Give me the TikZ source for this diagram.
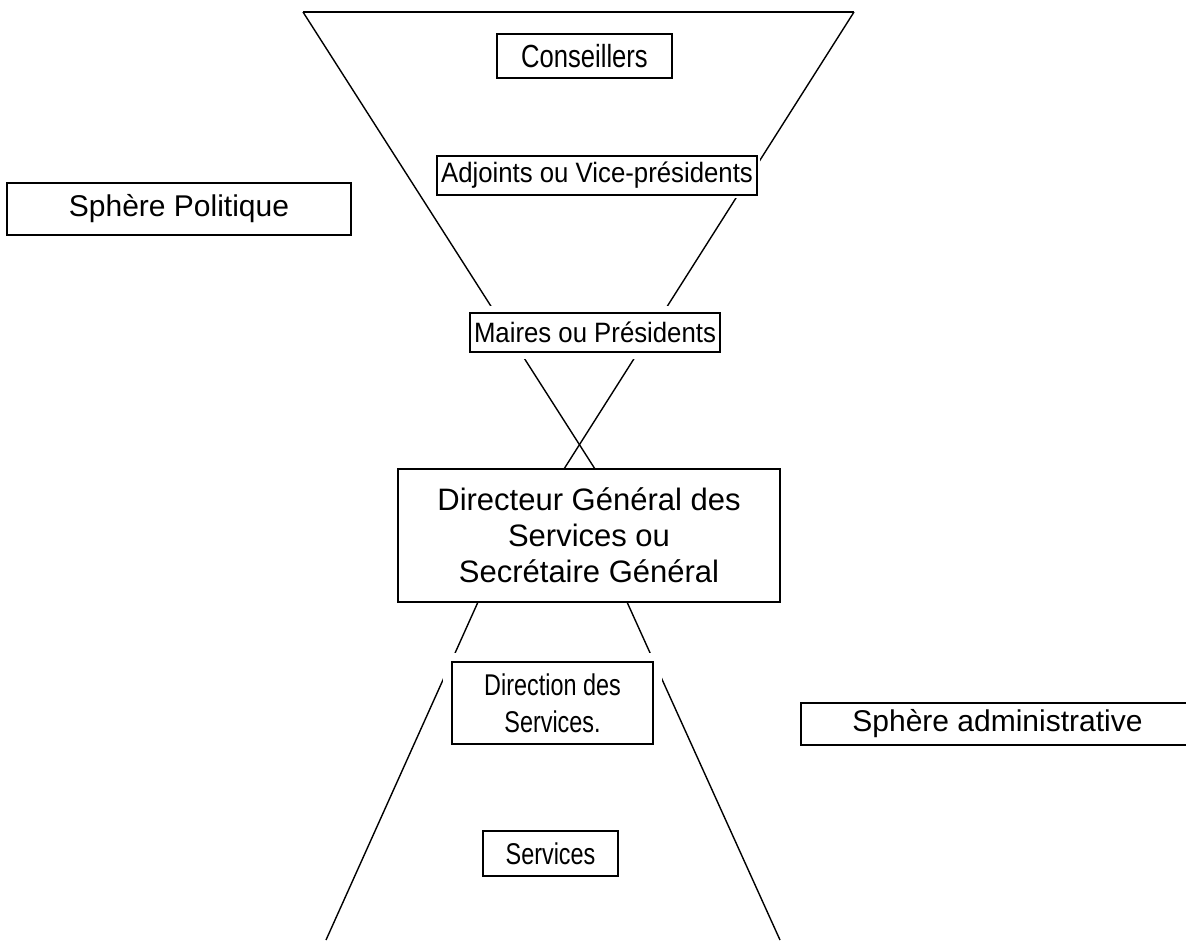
\documentclass[tikz,border=0pt]{standalone}
\usepackage{fontspec}
\setmainfont{Liberation Sans}
\newfontfamily\narrowA[FakeStretch=0.92]{Liberation Sans}
\newfontfamily\narrowB[FakeStretch=0.78]{Liberation Sans}
\newfontfamily\narrowC[FakeStretch=0.80]{Liberation Sans}
\begin{document}
\begin{tikzpicture}[x=1pt,y=-1pt,
  edge/.style={line width=1.4pt,black},
  box/.style={draw,line width=1.2pt,fill=white,inner sep=0pt,align=center},
  halo/.style={preaction={draw=white,line width=#1}},
  narrowtext/.style={font=\narrowA\fontsize{28}{34}\selectfont},
  narrowtextB/.style={font=\narrowB\fontsize{30}{37}\selectfont},
  narrowtextC/.style={font=\narrowC\fontsize{32}{37}\selectfont},
  bigtext/.style={font=\fontsize{30}{36}\selectfont}
]
\clip (0,0) rectangle (1186,940);
\fill[white] (0,0) rectangle (1186,940);
% funnel corners
\coordinate (tl) at (303,12);
\coordinate (tr) at (854,12);
\coordinate (ul) at (595,469);
\coordinate (ur) at (564,469);
\coordinate (ll) at (478,602);
\coordinate (lr) at (627,602);
\coordinate (bl) at (326,940);
\coordinate (br) at (780,940);
% upper funnel
\draw[edge] (tl) -- (tr);
\draw[edge] (tl) -- (ul);
\draw[edge] (tr) -- (ur);
% lower funnel
\draw[edge] (ll) -- (bl);
\draw[edge] (lr) -- (br);
% boxes
\node[box,halo=4pt,narrowtextC,minimum width=175pt,minimum height=44pt] (cons) at (584.5,56) {Conseillers};
\node[box,halo=6pt,narrowtext,minimum width=320pt,minimum height=39pt] (adj) at (597,175.5) {Adjoints ou Vice-présidents};
\node[box,halo=14pt,narrowtext,minimum width=250pt,minimum height=39pt] (maires) at (595,332.5) {Maires ou Présidents};
\node[box,font=\fontsize{31}{36}\selectfont,minimum width=382pt,minimum height=133pt] (dg) at (589,535.5) {Directeur Général des\\Services ou\\Secrétaire Général};
\node[box,halo=18pt,narrowtextB,minimum width=201pt,minimum height=82pt] (dir) at (552.5,703) {Direction des\\Services.};
\node[box,halo=4pt,narrowtextB,minimum width=135pt,minimum height=45pt] (serv) at (550.5,853.5) {Services};
\node[box,bigtext,minimum width=344pt,minimum height=52pt] (pol) at (179,209) {Sphère Politique};
\node[box,bigtext,minimum width=393pt,minimum height=42pt] (adm) at (997.5,724) {Sphère administrative};
\end{tikzpicture}
\end{document}
